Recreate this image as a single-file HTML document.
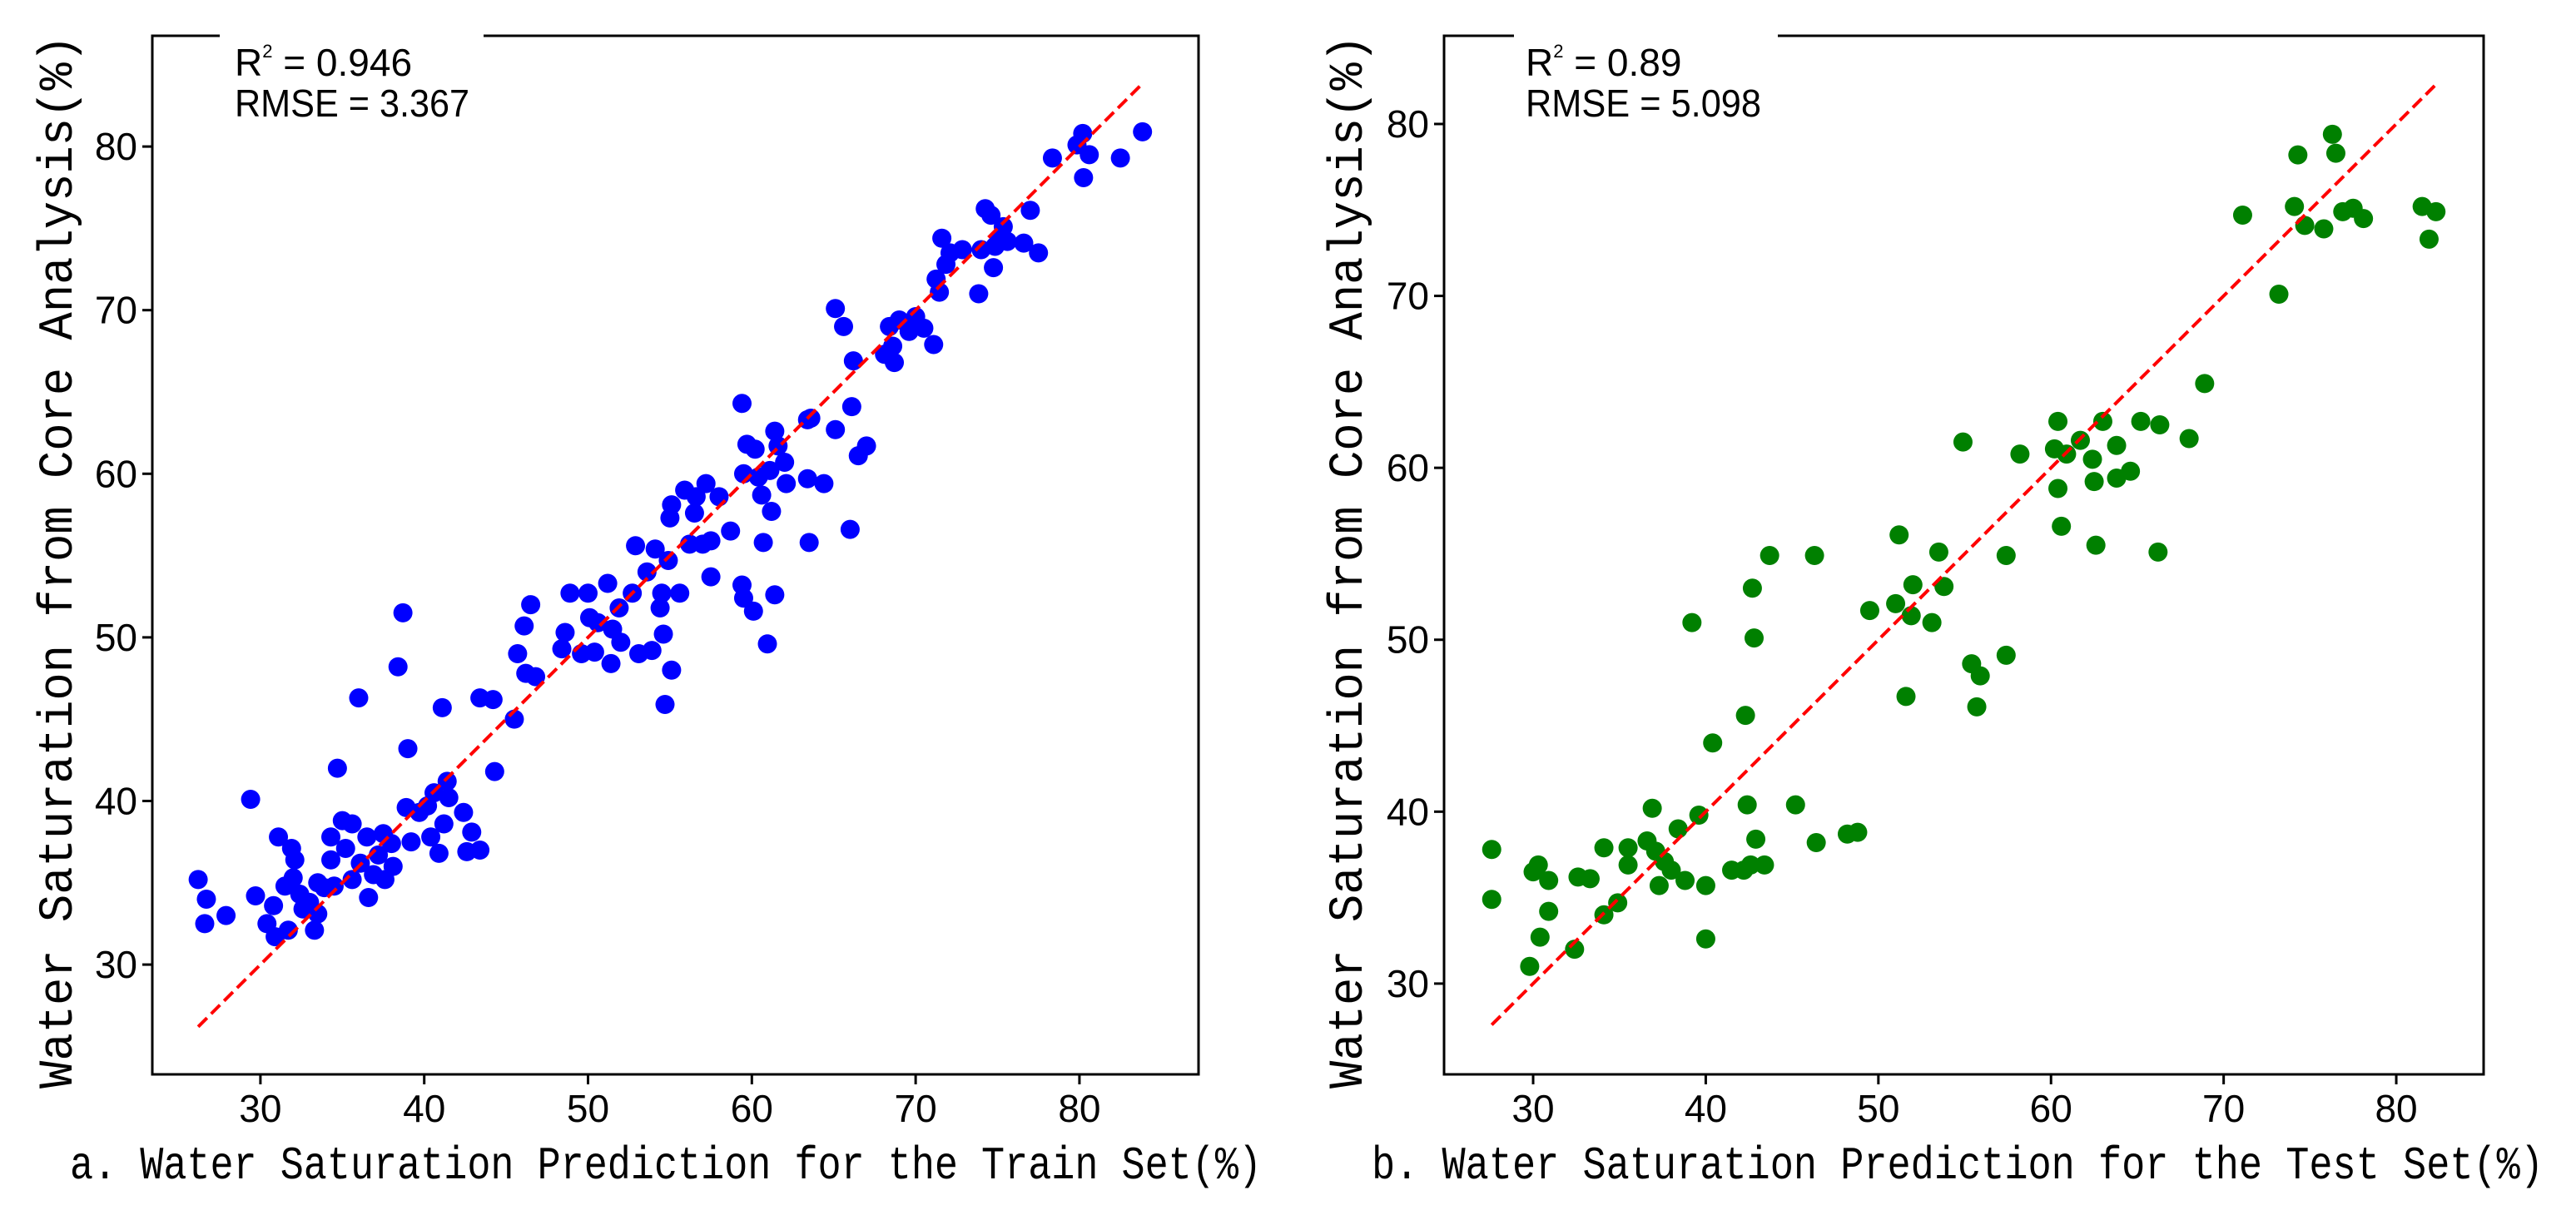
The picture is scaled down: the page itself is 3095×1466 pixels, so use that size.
<!DOCTYPE html>
<html><head><meta charset="utf-8"><style>
html,body{margin:0;padding:0;background:#fff;}
svg{display:block;}
text{font-family:"Liberation Sans","Noto Sans CJK SC",sans-serif;fill:#000;}
.mono{font-family:"Liberation Mono","Noto Sans CJK SC",monospace;}
</style></head><body>
<svg id="chart" width="3095" height="1466" viewBox="0 0 3095 1466" xmlns="http://www.w3.org/2000/svg"></svg>
<script>
const trainPred=[26.2,26.7,26.6,27.9,29.4,29.7,30.4,30.8,30.9,31.1,31.5,31.9,32.1,32.0,31.7,32.4,32.6,33.0,33.3,33.5,33.5,33.9,34.3,34.3,34.7,34.5,35.0,35.2,35.6,35.6,36.0,36.1,36.5,36.6,36.9,37.2,37.5,37.6,38.0,38.1,38.4,38.7,38.9,39.0,39.2,39.7,40.2,40.4,40.6,40.9,41.1,41.4,41.2,41.5,42.4,42.6,42.9,43.4,43.4,44.2,44.3,45.5,45.7,46.1,46.5,46.2,46.8,48.4,48.6,48.9,49.6,50.0,50.1,50.4,50.6,51.2,51.4,51.5,51.9,52.0,52.7,52.9,53.1,53.6,53.9,54.1,54.4,54.5,54.6,54.7,54.9,55.0,55.1,55.1,55.6,55.9,56.2,56.5,56.6,57.0,57.2,57.5,57.5,58.0,58.7,59.4,59.4,59.5,59.5,59.7,60.1,60.2,60.4,60.6,60.7,60.95,61.1,61.2,61.4,61.4,61.6,62.0,62.1,63.4,63.4,63.5,63.6,64.4,65.1,65.1,65.6,66.0,66.1,66.2,66.5,67.0,68.1,68.4,68.7,68.6,69.0,69.6,70.0,70.5,71.1,71.25,71.45,71.6,71.85,72.1,72.85,73.85,74.0,74.25,74.6,74.75,74.85,75.1,75.35,75.6,76.6,77.0,77.5,78.35,79.85,80.2,80.25,80.6,82.5,83.85];
const trainCore=[35.2,34.0,32.5,33.0,40.1,34.2,32.5,33.6,31.7,37.8,34.8,37.1,36.4,35.3,32.1,34.3,33.4,33.8,32.1,33.1,35.0,34.7,36.4,37.8,42.0,34.8,38.8,37.1,38.6,35.2,46.3,36.2,37.8,34.1,35.5,36.7,38.0,35.2,37.4,36.0,48.2,51.5,39.6,43.2,37.5,39.3,39.7,37.8,40.5,36.8,45.7,41.2,38.6,40.2,39.3,36.9,38.1,46.3,37.0,46.2,41.8,45.0,49.0,50.7,52.0,47.8,47.6,49.3,50.3,52.7,49.0,52.7,51.2,49.1,50.9,53.3,48.4,50.5,51.8,49.7,52.7,55.6,49.0,54.0,49.2,55.4,51.8,52.7,50.2,45.9,54.7,57.3,48.0,58.1,52.7,59.0,55.7,57.6,58.6,55.7,59.4,53.7,55.9,58.6,56.5,64.3,53.2,52.4,60.0,61.8,51.6,61.5,59.8,58.7,55.8,49.6,60.2,57.7,52.6,62.6,61.7,60.7,59.4,59.7,63.3,55.8,63.4,59.4,62.7,70.1,69.0,56.6,64.1,66.9,61.1,61.7,67.3,69.0,66.8,67.8,69.4,68.7,69.6,68.9,67.9,71.9,71.1,74.4,72.8,73.5,73.7,71.0,73.7,76.2,75.8,72.6,73.9,74.4,75.1,74.2,74.1,76.1,73.5,79.3,80.1,80.8,78.1,79.5,79.3,80.9];
const testPred=[27.6,27.6,29.8,30.0,30.3,30.4,30.9,30.9,32.4,32.6,33.3,34.1,34.1,34.9,35.5,35.5,36.6,36.9,37.1,37.3,37.6,38.0,38.4,38.8,39.2,39.6,40.0,40.0,40.4,41.5,42.2,42.3,42.4,42.6,42.7,42.8,42.9,43.4,43.7,45.2,46.3,46.4,48.2,48.8,49.5,51.0,51.2,51.6,51.9,52.0,53.1,53.5,53.8,54.9,55.4,55.7,55.9,57.4,57.4,58.2,60.2,60.4,60.4,60.6,60.9,61.7,62.4,62.5,62.6,63.0,63.8,63.8,64.6,65.2,66.2,66.3,68.0,68.9,71.1,73.2,74.1,74.3,74.7,75.8,76.3,76.5,76.9,77.5,78.1,81.5,81.9,82.3];
const testCore=[37.8,34.9,31.0,36.5,36.9,32.7,36.0,34.2,32.0,36.2,36.1,37.9,34.0,34.7,37.9,36.9,38.3,40.2,37.7,35.7,37.1,36.6,39.0,36.0,51.0,39.8,35.7,32.6,44.0,36.6,36.6,45.6,40.4,36.9,53.0,50.1,38.4,36.9,54.9,40.4,54.9,38.2,38.7,38.8,51.7,52.1,56.1,46.7,51.4,53.2,51.0,55.1,53.1,61.5,48.6,46.1,47.9,54.9,49.1,60.8,61.1,62.7,58.8,56.6,60.8,61.6,60.5,59.2,55.5,62.7,61.3,59.4,59.8,62.7,55.1,62.5,61.7,64.9,74.7,70.1,75.2,78.2,74.1,73.9,79.4,78.3,74.9,75.1,74.5,75.2,73.3,74.9];
const tickValues=[30,40,50,60,70,80];
const tickLabels=["30","40","50","60","70","80"];
const panelTitles=["a. Water Saturation Prediction for the Train Set(%)","b. Water Saturation Prediction for the Test Set(%)"];
const yTitle="Water Saturation from Core Analysis(%)";
const statsR2=["0.946","0.89"];
const statsRMSE=["3.367","5.098"];

const NS="http://www.w3.org/2000/svg";
const svg=document.getElementById('chart');
function mk(tag,attrs,parent){const e=document.createElementNS(NS,tag);for(const k in attrs)e.setAttribute(k,attrs[k]);(parent||svg).appendChild(e);return e;}

const panels=[
 {L:183,R:1440,T:43,B:1291,x0:23.4,x1:87.27,y0:23.29,y1:86.77,px:trainPred,py:trainCore,color:"#0000ff",
  ylx:74,xl0:84,xl1:1516,tx:282,tw:282,gap:[264,581]},
 {L:1735,R:2984,T:43,B:1291,x0:24.84,x1:85.06,y0:24.72,y1:85.13,px:testPred,py:testCore,color:"#008000",
  ylx:1624,xl0:1648,xl1:3056,tx:1833,tw:283,gap:[1819,2136]}
];
panels.forEach((p,i)=>{
  const g=mk('g',{});
  
  
  const sx=v=>p.L+(v-p.x0)/(p.x1-p.x0)*(p.R-p.L);
  const sy=v=>p.B-(v-p.y0)/(p.y1-p.y0)*(p.B-p.T);
  const pts=mk('g',{},g);
  
  
  p.px.forEach((v,j)=>{
    const c=mk('circle',{cx:sx(v),cy:sy(p.py[j]),r:11.5,fill:p.color},pts);
    
    
  });
  const mn=Math.min(...p.px), mx=Math.max(...p.px);
  const ln=mk('line',{x1:sx(mn),y1:sy(mn),x2:sx(mx),y2:sy(mx),stroke:"#ff0000","stroke-width":4,"stroke-dasharray":"15,7"},g);
  
  
  const fr=mk('rect',{x:p.L,y:p.T,width:p.R-p.L,height:p.B-p.T,fill:"none",stroke:"#000","stroke-width":3},g);
  
  
  const wb=mk('rect',{x:p.gap[0],y:p.T-4,width:p.gap[1]-p.gap[0],height:115,fill:"#fff"},g);
  
  
  tickValues.forEach((v,k)=>{
    const X=sx(v);
    const t=mk('line',{x1:X,y1:p.B,x2:X,y2:p.B+12,stroke:"#000","stroke-width":3},g);
    
    
    const tl=mk('text',{x:X,y:p.B+57,"font-size":46,"text-anchor":"middle"},g);
    tl.textContent=tickLabels[k];
    
    
    const Y=sy(v);
    const t2=mk('line',{x1:p.L-12,y1:Y,x2:p.L,y2:Y,stroke:"#000","stroke-width":3},g);
    
    
    const tl2=mk('text',{x:p.L-18,y:Y+16,"font-size":46,"text-anchor":"end"},g);
    tl2.textContent=tickLabels[k];
    
    
  });
  const r2=mk('text',{x:p.tx,y:91,"font-size":46},g);
  r2.innerHTML='R<tspan font-size="22" dy="-22">2</tspan><tspan dy="22"> = '+statsR2[i]+'</tspan>';
  
  
  const rm=mk('text',{x:p.tx,y:140,"font-size":46,textLength:p.tw,lengthAdjust:"spacingAndGlyphs"},g);
  rm.textContent='RMSE = '+statsRMSE[i];
  
  
  const yt=mk('text',{x:0,y:0,"font-size":58,"text-anchor":"middle",class:"mono",textLength:1266,lengthAdjust:"spacingAndGlyphs",transform:`translate(${p.ylx+12},675) rotate(-90)`},g);
  yt.textContent=yTitle;
  
  
  const xt=mk('text',{x:p.xl0,y:1416,"font-size":56,class:"mono",textLength:p.xl1-p.xl0,lengthAdjust:"spacingAndGlyphs"},g);
  xt.textContent=panelTitles[i];
  
  
});
</script>
</body></html>
